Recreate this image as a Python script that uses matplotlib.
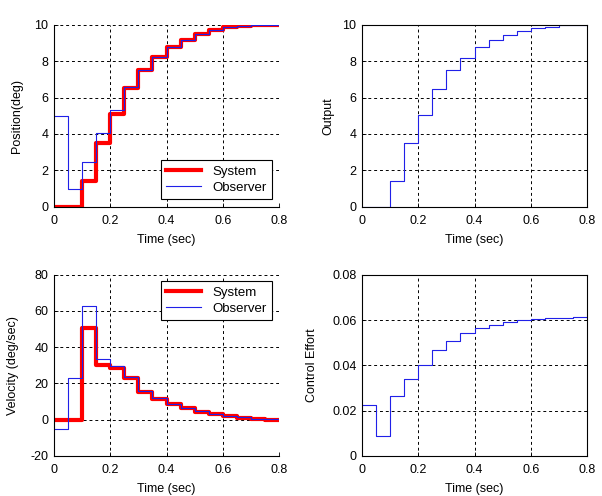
import numpy as np
import matplotlib
matplotlib.use('Agg')
import matplotlib.pyplot as plt

plt.rcParams['font.family'] = ['Liberation Sans', 'DejaVu Sans']
plt.rcParams['font.size'] = 9

# sample instants (0.05 s), last entry closes the final step
t = [0.0, 0.05, 0.1, 0.15, 0.2, 0.25, 0.3, 0.35, 0.4, 0.45, 0.5,
     0.55, 0.6, 0.65, 0.7, 0.75, 0.8]

pos_sys = [0, 0, 1.41, 3.52, 5.07, 6.5, 7.5, 8.24, 8.79, 9.16, 9.49,
           9.7, 9.85, 9.94, 9.98, 10.0]
pos_obs = [5.0, 1.0, 2.44, 4.05, 5.29, 6.55, 7.52, 8.25, 8.8, 9.17, 9.5,
           9.71, 9.86, 9.95, 9.99, 10.0]
output = [0, 0, 1.39, 3.52, 5.04, 6.47, 7.5, 8.19, 8.75, 9.14, 9.43,
          9.63, 9.82, 9.89, 9.96, 10.0]
vel_sys = [0, 0, 50.7, 30.0, 28.2, 23.2, 15.3, 11.6, 8.5, 6.3, 4.4,
           2.9, 1.8, 1.1, 0.4, 0.0]
vel_obs = [-5.0, 23.0, 62.9, 33.7, 29.5, 23.5, 15.6, 11.8, 8.7, 6.5, 4.6,
           3.1, 2.0, 1.2, 0.5, 0.1]
control = [0.0226, 0.0087, 0.0266, 0.034, 0.0403, 0.0469, 0.0509, 0.0544,
           0.0565, 0.0579, 0.0593, 0.0599, 0.0603, 0.0607, 0.0609, 0.0613]

xticks = [0, 0.2, 0.4, 0.6, 0.8]
xticklabels = ['0', '0.2', '0.4', '0.6', '0.8']


def ext(v):
    return list(v) + [v[-1]]


W, H = 602, 496
fig = plt.figure(figsize=(W / 100, H / 100), dpi=100)


def make_ax(l, r, top, bot):
    return fig.add_axes([l / W, 1 - bot / H, (r - l) / W, (bot - top) / H])


def style(ax, yticks, yticklabels, ylim, dashed_box=False):
    ax.set_xlim(0, 0.8)
    ax.set_ylim(*ylim)
    ax.set_xticks(xticks)
    ax.set_xticklabels(xticklabels)
    ax.set_yticks(yticks)
    ax.set_yticklabels(yticklabels)
    ax.tick_params(direction='in', length=3, width=0.6, top=False, right=False,
                   labelsize=9, pad=4)
    ax.tick_params(axis='x', pad=6)
    ax.grid(True, color='black', linestyle=(0, (3, 3)), linewidth=0.7)
    for s in ax.spines.values():
        s.set_linewidth(0.8)
    if dashed_box:
        ax.spines['top'].set_visible(False)
        ax.spines['right'].set_visible(False)
    ax.set_xlabel('Time (sec)', labelpad=5)


def legend(ax, loc, anchor):
    lg = ax.legend(loc=loc, fancybox=False, edgecolor='black', framealpha=1,
                   handlelength=2.6, borderpad=0.4, labelspacing=0.3,
                   handletextpad=0.9, fontsize=9.5, borderaxespad=0,
                   bbox_to_anchor=anchor)
    lg.get_frame().set_linewidth(0.8)


# top left: position
ax1 = make_ax(54, 279, 24.7, 206.7)
ax1.step(t, ext(pos_sys), where='post', color='#ff0000', lw=3, label='System')
ax1.step(t, ext(pos_obs), where='post', color='#2020e8', lw=0.8, label='Observer')
style(ax1, [0, 2, 4, 6, 8, 10], ['0', '2', '4', '6', '8', '10'], (0, 10), True)
ax1.set_ylabel('Position(deg)', labelpad=8)
legend(ax1, 'lower right', (0.969, 0.042))

# top right: output
ax2 = make_ax(362, 587, 24.7, 206.7)
ax2.step(t, ext(output), where='post', color='#2020e8', lw=0.8)
style(ax2, [0, 2, 4, 6, 8, 10], ['0', '2', '4', '6', '8', '10'], (0, 10))
ax2.set_ylabel('Output', labelpad=6)

# bottom left: velocity
ax3 = make_ax(54, 279, 274.7, 455.7)
ax3.step(t, ext(vel_sys), where='post', color='#ff0000', lw=3, label='System')
ax3.step(t, ext(vel_obs), where='post', color='#2020e8', lw=0.8, label='Observer')
style(ax3, [-20, 0, 20, 40, 60, 80], ['-20', '0', '20', '40', '60', '80'],
      (-20, 80), True)
ax3.set_ylabel('Velocity (deg/sec)', labelpad=8)
legend(ax3, 'upper right', (0.969, 0.965))

# bottom right: control effort
ax4 = make_ax(362, 587, 274.7, 456)
ax4.step(t, ext(control), where='post', color='#2020e8', lw=0.8)
style(ax4, [0, 0.02, 0.04, 0.06, 0.08], ['0', '0.02', '0.04', '0.06', '0.08'],
      (0, 0.08))
ax4.set_ylabel('Control Effort', labelpad=10)

fig.savefig('out.png', dpi=100)
